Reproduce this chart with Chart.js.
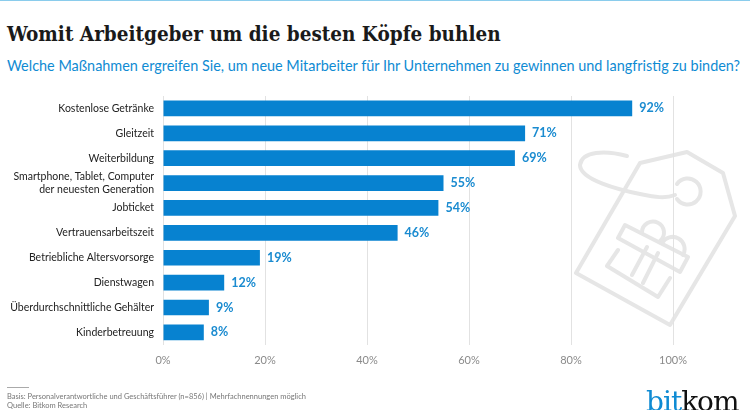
<!DOCTYPE html>
<html lang="de">
<head>
<meta charset="utf-8">
<title>Womit Arbeitgeber um die besten Köpfe buhlen</title>
<script src="https://cdn.jsdelivr.net/npm/chart.js@4/dist/chart.umd.min.js"></script>
<style>
  html, body { margin: 0; padding: 0; background: #fff; }
  #page { position: relative; width: 750px; height: 410px; overflow: hidden; font-family: Lato, sans-serif; }
  #page > div, #page > svg, #wrap { position: absolute; }
  #topline { left: 0; top: 0; width: 750px; height: 1px; background: #8accec; }
  #title { left: 7px; top: 22px; font: bold 20.5px "DejaVu Serif Condensed", "DejaVu Serif", serif; color: #1a1a1a; white-space: nowrap; }
  #subtitle { left: 7px; top: 57px; font-size: 14.43px; color: #0f8bd3; white-space: nowrap; }
  #tag { left: 0; top: 0; }
  #wrap { left: 0; top: 0; width: 750px; height: 410px; }
  #rule { left: 7px; top: 387px; width: 22px; height: 1px; background: #aaa; }
  #note { left: 7px; top: 392px; font-size: 7.5px; line-height: 9px; color: #777; white-space: nowrap; }
  #logo { left: 646px; top: 385px; font: 28px "DejaVu Serif", serif; letter-spacing: -1px; color: #111; }
  #logo span { color: #0f8bd3; }
</style>
</head>
<body>
<div id="page">
  <div id="topline"></div>
  <div id="title">Womit Arbeitgeber um die besten Köpfe buhlen</div>
  <div id="subtitle">Welche Maßnahmen ergreifen Sie, um neue Mitarbeiter für Ihr Unternehmen zu gewinnen und langfristig zu binden?</div>
  <svg id="tag" width="750" height="410" fill="none" stroke="#e6e6e6" stroke-width="4" stroke-linejoin="round" stroke-linecap="round">
    <path d="M640 163 L687 152 L723 173 L735 216 L670 325 L576 273 Z"/>
    <path d="M677 184 A13 13 0 1 1 677 199"/>
    <path d="M627 156 C605 150 582 151 580 165 C580 180 620 190 640 194 C655 197 665 199 675 195"/>
    <path d="M618 250 L607 266 L658 297 L670 278"/>
    <path d="M625 225 L618 238 L680 272 L688 257 Z"/>
    <path d="M647 247 L632 275 M658 253 L643 283"/>
    <path d="M642 232 A11 11 0 1 1 660 241"/>
    <path d="M662 243 A12 12 0 1 1 683 255"/>
  </svg>
  <div id="wrap"><canvas id="chart"></canvas></div>
  <div id="rule"></div>
  <div id="note">Basis: Personalverantwortliche und Geschäftsführer (n=856) | Mehrfachnennungen möglich<br>Quelle: Bitkom Research</div>
  <div id="logo"><span>bit</span>kom</div>
</div>
<script>
const categories = [
  "Kostenlose Getränke",
  "Gleitzeit",
  "Weiterbildung",
  ["Smartphone, Tablet, Computer", "der neuesten Generation"],
  "Jobticket",
  "Vertrauensarbeitszeit",
  "Betriebliche Altersvorsorge",
  "Dienstwagen",
  "Überdurchschnittliche Gehälter",
  "Kinderbetreuung",
];
const values = [92, 71, 69, 55, 54, 46, 19, 12, 9, 8];
const xTicks = [0, 20, 40, 60, 80, 100];

const blue = "#0782d0";

// prozentwerte rechts neben den balken
const valueLabels = {
  id: "valueLabels",
  afterDatasetsDraw(chart) {
    const ctx = chart.ctx;
    ctx.save();
    ctx.font = "bold 12.5px Lato, sans-serif";
    ctx.fillStyle = "#1a8bd0";
    ctx.textBaseline = "middle";
    chart.getDatasetMeta(0).data.forEach((bar, i) => {
      ctx.fillText(values[i] + "%", bar.x + 7, bar.y);
    });
    ctx.restore();
  },
};

new Chart(document.getElementById("chart"), {
  type: "bar",
  data: {
    labels: categories,
    datasets: [{
      data: values,
      backgroundColor: blue,
      barPercentage: 0.63,
      categoryPercentage: 1,
    }],
  },
  options: {
    indexAxis: "y",
    responsive: true,
    maintainAspectRatio: false,
    animation: false,
    layout: { padding: { top: 96, right: 77, bottom: 34, left: 0 } },
    plugins: { legend: { display: false }, tooltip: { enabled: false } },
    scales: {
      x: {
        min: 0,
        max: 100,
        afterBuildTicks(axis) { axis.ticks = xTicks.map((v) => ({ value: v })); },
        grid: { color: "#e2e2e2", lineWidth: 1, drawTicks: false },
        border: { display: false },
        ticks: {
          color: "#8a8a8a",
          padding: 9,
          maxRotation: 0,
          font: { family: "Lato, sans-serif", size: 11 },
          callback: (v) => v + "%",
        },
      },
      y: {
        afterFit(axis) { axis.width = 163; },
        grid: { display: false, drawTicks: false },
        border: { display: false },
        ticks: {
          color: "#222",
          padding: 9,
          autoSkip: false,
          font: { family: "Lato, sans-serif", size: 10.5, lineHeight: 1.15 },
        },
      },
    },
  },
  plugins: [valueLabels],
});
</script>
</body>
</html>
